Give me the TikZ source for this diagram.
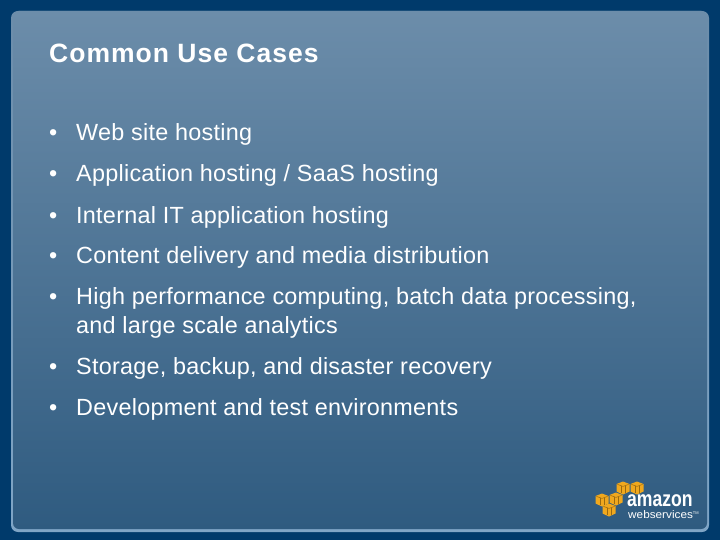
\documentclass[tikz,border=0pt]{standalone}
\usepackage{tikz}
\usepackage{xcolor}
\usepackage{fontspec}
\setmainfont{Liberation Sans}
\usetikzlibrary{shapes.misc}
\definecolor{pagebg}{HTML}{003A6B}
\definecolor{paneltop}{HTML}{6C8DAA}
\definecolor{panelbot}{HTML}{2F5B80}
\definecolor{panelline}{HTML}{7FA5C6}
\definecolor{cubeyellow}{HTML}{F0A81E}
\definecolor{cubedark}{HTML}{9A6A10}
\tikzset{
  titletext/.style={anchor=base west,inner sep=0pt,text=white,font=\fontsize{26.5}{28}\selectfont\bfseries\addfontfeature{LetterSpace=3.8}},
  itemtext/.style={anchor=base west,inner sep=0pt,text=white,font=\fontsize{23.4}{24}\selectfont\addfontfeature{LetterSpace=1.1}},
  cubetop/.style={fill=cubeyellow,draw=none},
  cubeedge/.style={draw=cubedark,line width=0.5pt},
}
\newcommand{\awscube}[2]{%
\fill[cubetop] (#1-6.5,#2-4) -- (#1,#2-6.5) -- (#1+6.5,#2-4) -- (#1+6.5,#2+3.5) -- (#1,#2+6.5) -- (#1-6.5,#2+3.5) -- cycle;
\draw[cubeedge] (#1-2.2,#2-2.5) -- (#1-2.2,#2+4.5);
\draw[cubeedge] (#1+2.2,#2-2.5) -- (#1+2.2,#2+4.5);
\draw[cubeedge] (#1-5.5,#2-3.6) -- (#1,#2-1.6) -- (#1+5.5,#2-3.6);
}
\begin{document}
\begin{tikzpicture}[x=1pt,y=-1pt]
\useasboundingbox (0,0) rectangle (720,540);
\fill[pagebg] (0,0) rectangle (720,540);
\shade[top color=paneltop,bottom color=panelline,rounded corners=7pt] (11,11) rectangle (709,532);
\shade[top color=paneltop,bottom color=panelbot,rounded corners=6pt] (13,11) rectangle (707,529);
% items
\node[titletext] (title) at (49,62.3) {Common Use Cases};
\node[itemtext] (b1) at (49,141) {•};
\node[itemtext] (t1) at (76,141) {Web site hosting};
\node[itemtext] (b2) at (49,182) {•};
\node[itemtext] (t2) at (76,182) {Application hosting / SaaS hosting};
\node[itemtext] (b3) at (49,223) {•};
\node[itemtext] (t3) at (76,223) {Internal IT application hosting};
\node[itemtext] (b4) at (49,263) {•};
\node[itemtext] (t4) at (76,263) {Content delivery and media distribution};
\node[itemtext] (b5) at (49,304) {•};
\node[itemtext] (t5) at (76,304) {High performance computing, batch data processing,};
\node[itemtext] (t5b) at (76,333) {and large scale analytics};
\node[itemtext] (b6) at (49,374) {•};
\node[itemtext] (t6) at (76,374) {Storage, backup, and disaster recovery};
\node[itemtext] (b7) at (49,415) {•};
\node[itemtext] (t7) at (76,415) {Development and test environments};
% logo
\awscube{623}{488}
\awscube{637}{488}
\awscube{602}{500}
\awscube{616}{499}
\awscube{609}{510}
\node[anchor=base west,inner sep=0pt,text=white,font=\fontsize{22}{22}\selectfont\bfseries] (amazon) at (627,506) {\scalebox{0.8}[1]{amazon}};
\node[anchor=base west,inner sep=0pt,text=white,font=\fontsize{11}{12}\selectfont] (services) at (628,518) {\scalebox{1.07}[1]{webservices}\raisebox{4pt}{\fontsize{4}{4}\selectfont TM}};
\end{tikzpicture}
\end{document}
